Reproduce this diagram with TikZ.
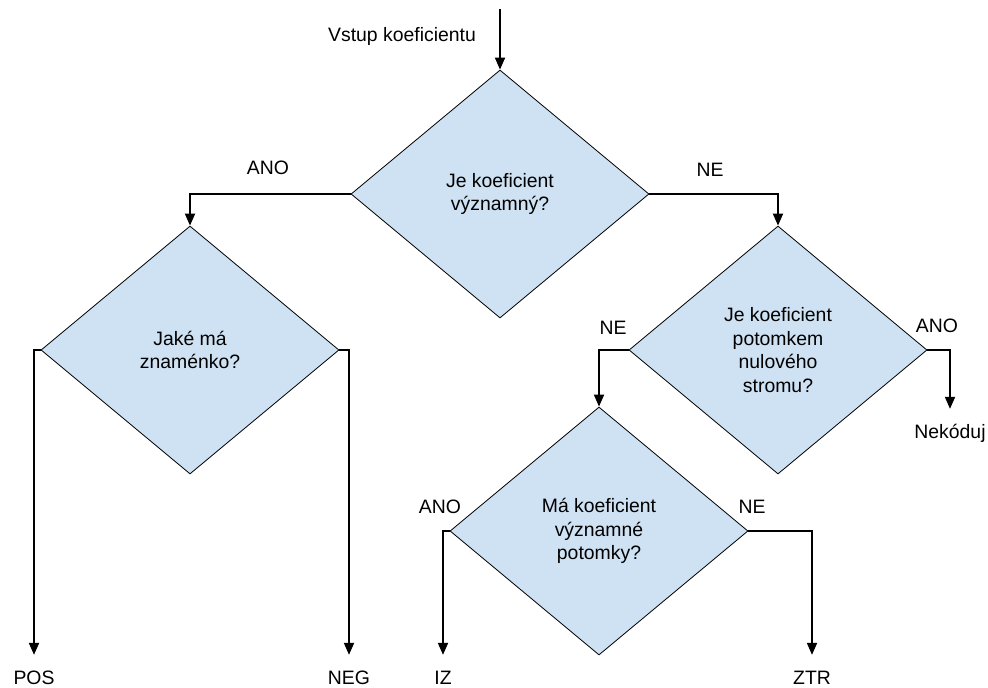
\documentclass[tikz,border=0pt]{standalone}
\usepackage{fontspec}
\setmainfont{Liberation Sans}
\usetikzlibrary{shapes.geometric,arrows.meta}
\definecolor{decfill}{HTML}{CFE2F3}
\begin{document}
\begin{tikzpicture}[x=1pt,y=-1pt,
  font=\fontsize{19.4}{23.5}\selectfont,
  decision/.style={diamond,draw=black,line width=0.8pt,fill=decfill,
    minimum width=298pt,minimum height=248pt,inner sep=0pt,align=center},
  lbl/.style={inner sep=0pt,text height=13.9pt,text depth=0pt},
  flow/.style={line width=1.8pt,-{Triangle[length=12pt,width=10pt]}},
  toend/.style={flow,shorten >=16pt}]
\useasboundingbox (0,0) rectangle (988,688);

% decisions
\node[decision] (d1) at (500,194) {Je koeficient\\významný?};
\node[decision] (d2) at (190,350) {Jaké má\\znaménko?};
\node[decision] (d3) at (778,350) {Je koeficient\\potomkem\\nulového\\stromu?};
\node[decision] (d4) at (599,531) {Má koeficient\\významné\\potomky?};

% entry
\coordinate (in) at (500,9);
\node[lbl] (vstup) at (402,35) {Vstup koeficientu};

% outcomes
\node[lbl] (pos) at (34,678) {POS};
\node[lbl] (neg) at (349,678) {NEG};
\node[lbl] (iz) at (443,678) {IZ};
\node[lbl] (ztr) at (812,678) {ZTR};
\node[lbl,text depth=4pt] (nek) at (950,434) {Nekóduj};

% branch labels
\node[lbl] (l1) at (268,168) {ANO};
\node[lbl] (l2) at (710,170) {NE};
\node[lbl] (l3) at (613,328) {NE};
\node[lbl] (l4) at (937,326) {ANO};
\node[lbl] (l5) at (440,507) {ANO};
\node[lbl] (l6) at (752,507) {NE};

% connectors
\draw[flow] (in) -- (d1.north);
\draw[flow] (d1.west) -| (d2.north);
\draw[flow] (d1.east) -| (d3.north);
\draw[toend] (d2.west) -| (pos.north);
\draw[toend] (d2.east) -| (neg.north);
\draw[flow] (d3.west) -| (d4.north);
\draw[toend] (d3.east) -| (nek.north);
\draw[toend] (d4.west) -| (iz.north);
\draw[toend] (d4.east) -| (ztr.north);
\end{tikzpicture}
\end{document}
